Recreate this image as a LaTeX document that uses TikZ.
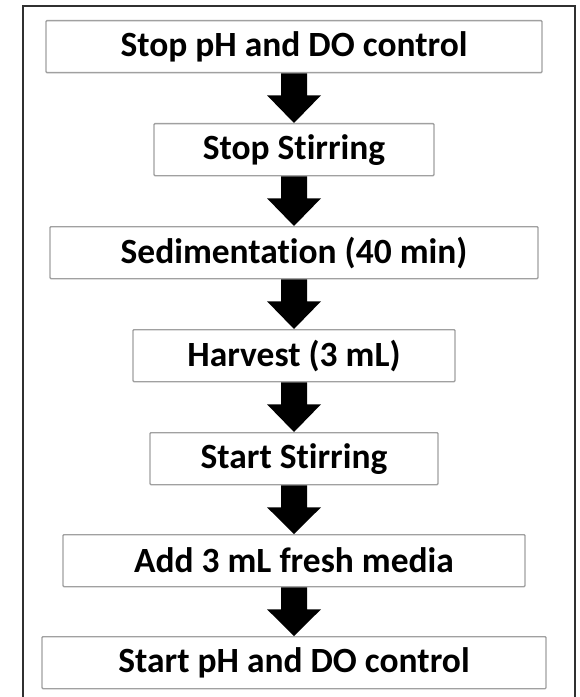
\documentclass[tikz,border=0pt]{standalone}
\usepackage{fontspec}
\setmainfont[Ligatures=NoCommon]{Carlito}
\usetikzlibrary{calc}
\definecolor{boxgray}{HTML}{A0A0A0}
\definecolor{framegray}{HTML}{303030}
\newcommand\flowarrow[2]{%
  \fill ($(#1.south)+(-13,0)$) -- ($(#1.south)+(13,0)$) -- ($(#1.south)+(13,22)$)
    -- ($(#1.south)+(27,22)$) -- (#2.north) -- ($(#1.south)+(-27,22)$)
    -- ($(#1.south)+(-13,22)$) -- cycle;}
\begin{document}
\begin{tikzpicture}[x=1bp,y=-1bp,
  stepbox/.style={draw=boxgray, line width=1.3bp, rounded corners=1bp,
    minimum height=52bp, inner sep=0pt, anchor=north,
    font=\bfseries\fontsize{35.6}{40}\selectfont}]
\useasboundingbox (0,0) rectangle (580,697);
\begin{scope}
  \clip (0,0) rectangle (580,697);
  \draw[line width=2.5bp, draw=framegray] (23,6) rectangle (575,712);
\end{scope}
\node[stepbox, minimum width=496bp] (s1) at (294,20) {Stop pH and DO control};
\node[stepbox, minimum width=280bp] (s2) at (294,123) {Stop Stirring};
\node[stepbox, minimum width=488bp] (s3) at (294,226) {Sedimentation (40 min)};
\node[stepbox, minimum width=322bp] (s4) at (294,329) {Harvest (3 mL)};
\node[stepbox, minimum width=288bp] (s5) at (294,432) {Start Stirring};
\node[stepbox, minimum width=462bp] (s6) at (294,534) {Add 3 mL fresh media};
\node[stepbox, minimum width=504bp] (s7) at (294,636) {Start pH and DO control};
\flowarrow{s1}{s2}
\flowarrow{s2}{s3}
\flowarrow{s3}{s4}
\flowarrow{s4}{s5}
\flowarrow{s5}{s6}
\flowarrow{s6}{s7}
\end{tikzpicture}
\end{document}
